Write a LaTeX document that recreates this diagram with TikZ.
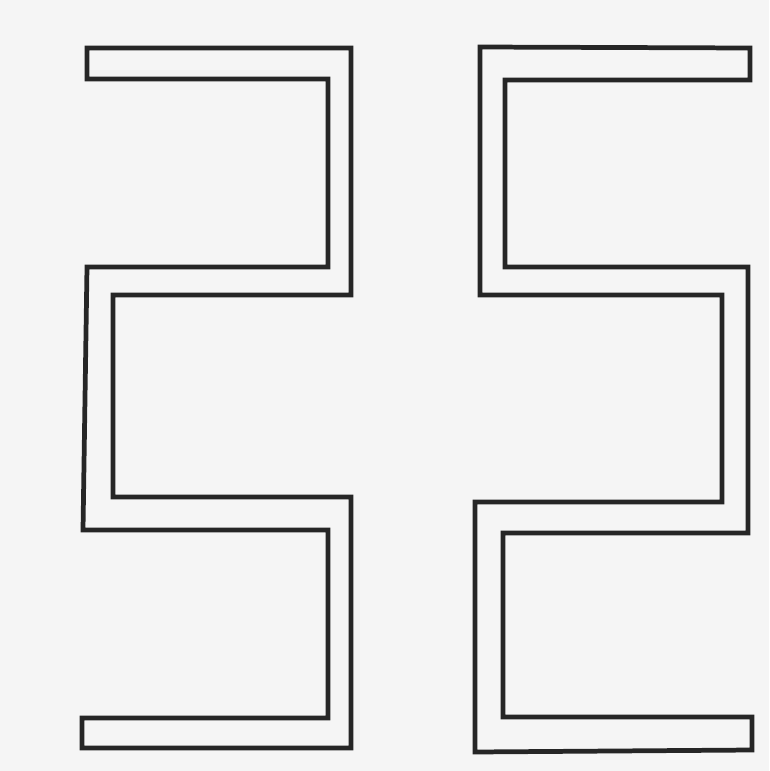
\documentclass[tikz,border=0pt]{standalone}
\begin{document}
\begin{tikzpicture}[x=0.02cm, y=-0.02cm, wall/.style={draw=black!85, line width=2.7pt, line join=miter}]
        \fill[black!4] (0,0) rectangle (769,771);
        \useasboundingbox (0,0) rectangle (769,771);
        % left strip
        \draw[wall] (87,48) -- (351,48) -- (351,295) -- (113,295) -- (113,497) -- (351,497)
            -- (351,748) -- (82,748) -- (82,718) -- (328,718) -- (328,530) -- (83,530)
            -- (87,267) -- (328,267) -- (328,79) -- (87,79) -- cycle;
        % right strip
        \draw[wall] (480,47) -- (750,48) -- (750,80) -- (505,80) -- (505,267) -- (748,267)
            -- (748,533) -- (503,533) -- (503,717) -- (752,717) -- (752,750) -- (475,752)
            -- (475,502) -- (722,502) -- (722,295) -- (480,295) -- cycle;
    \end{tikzpicture}
\end{document}
